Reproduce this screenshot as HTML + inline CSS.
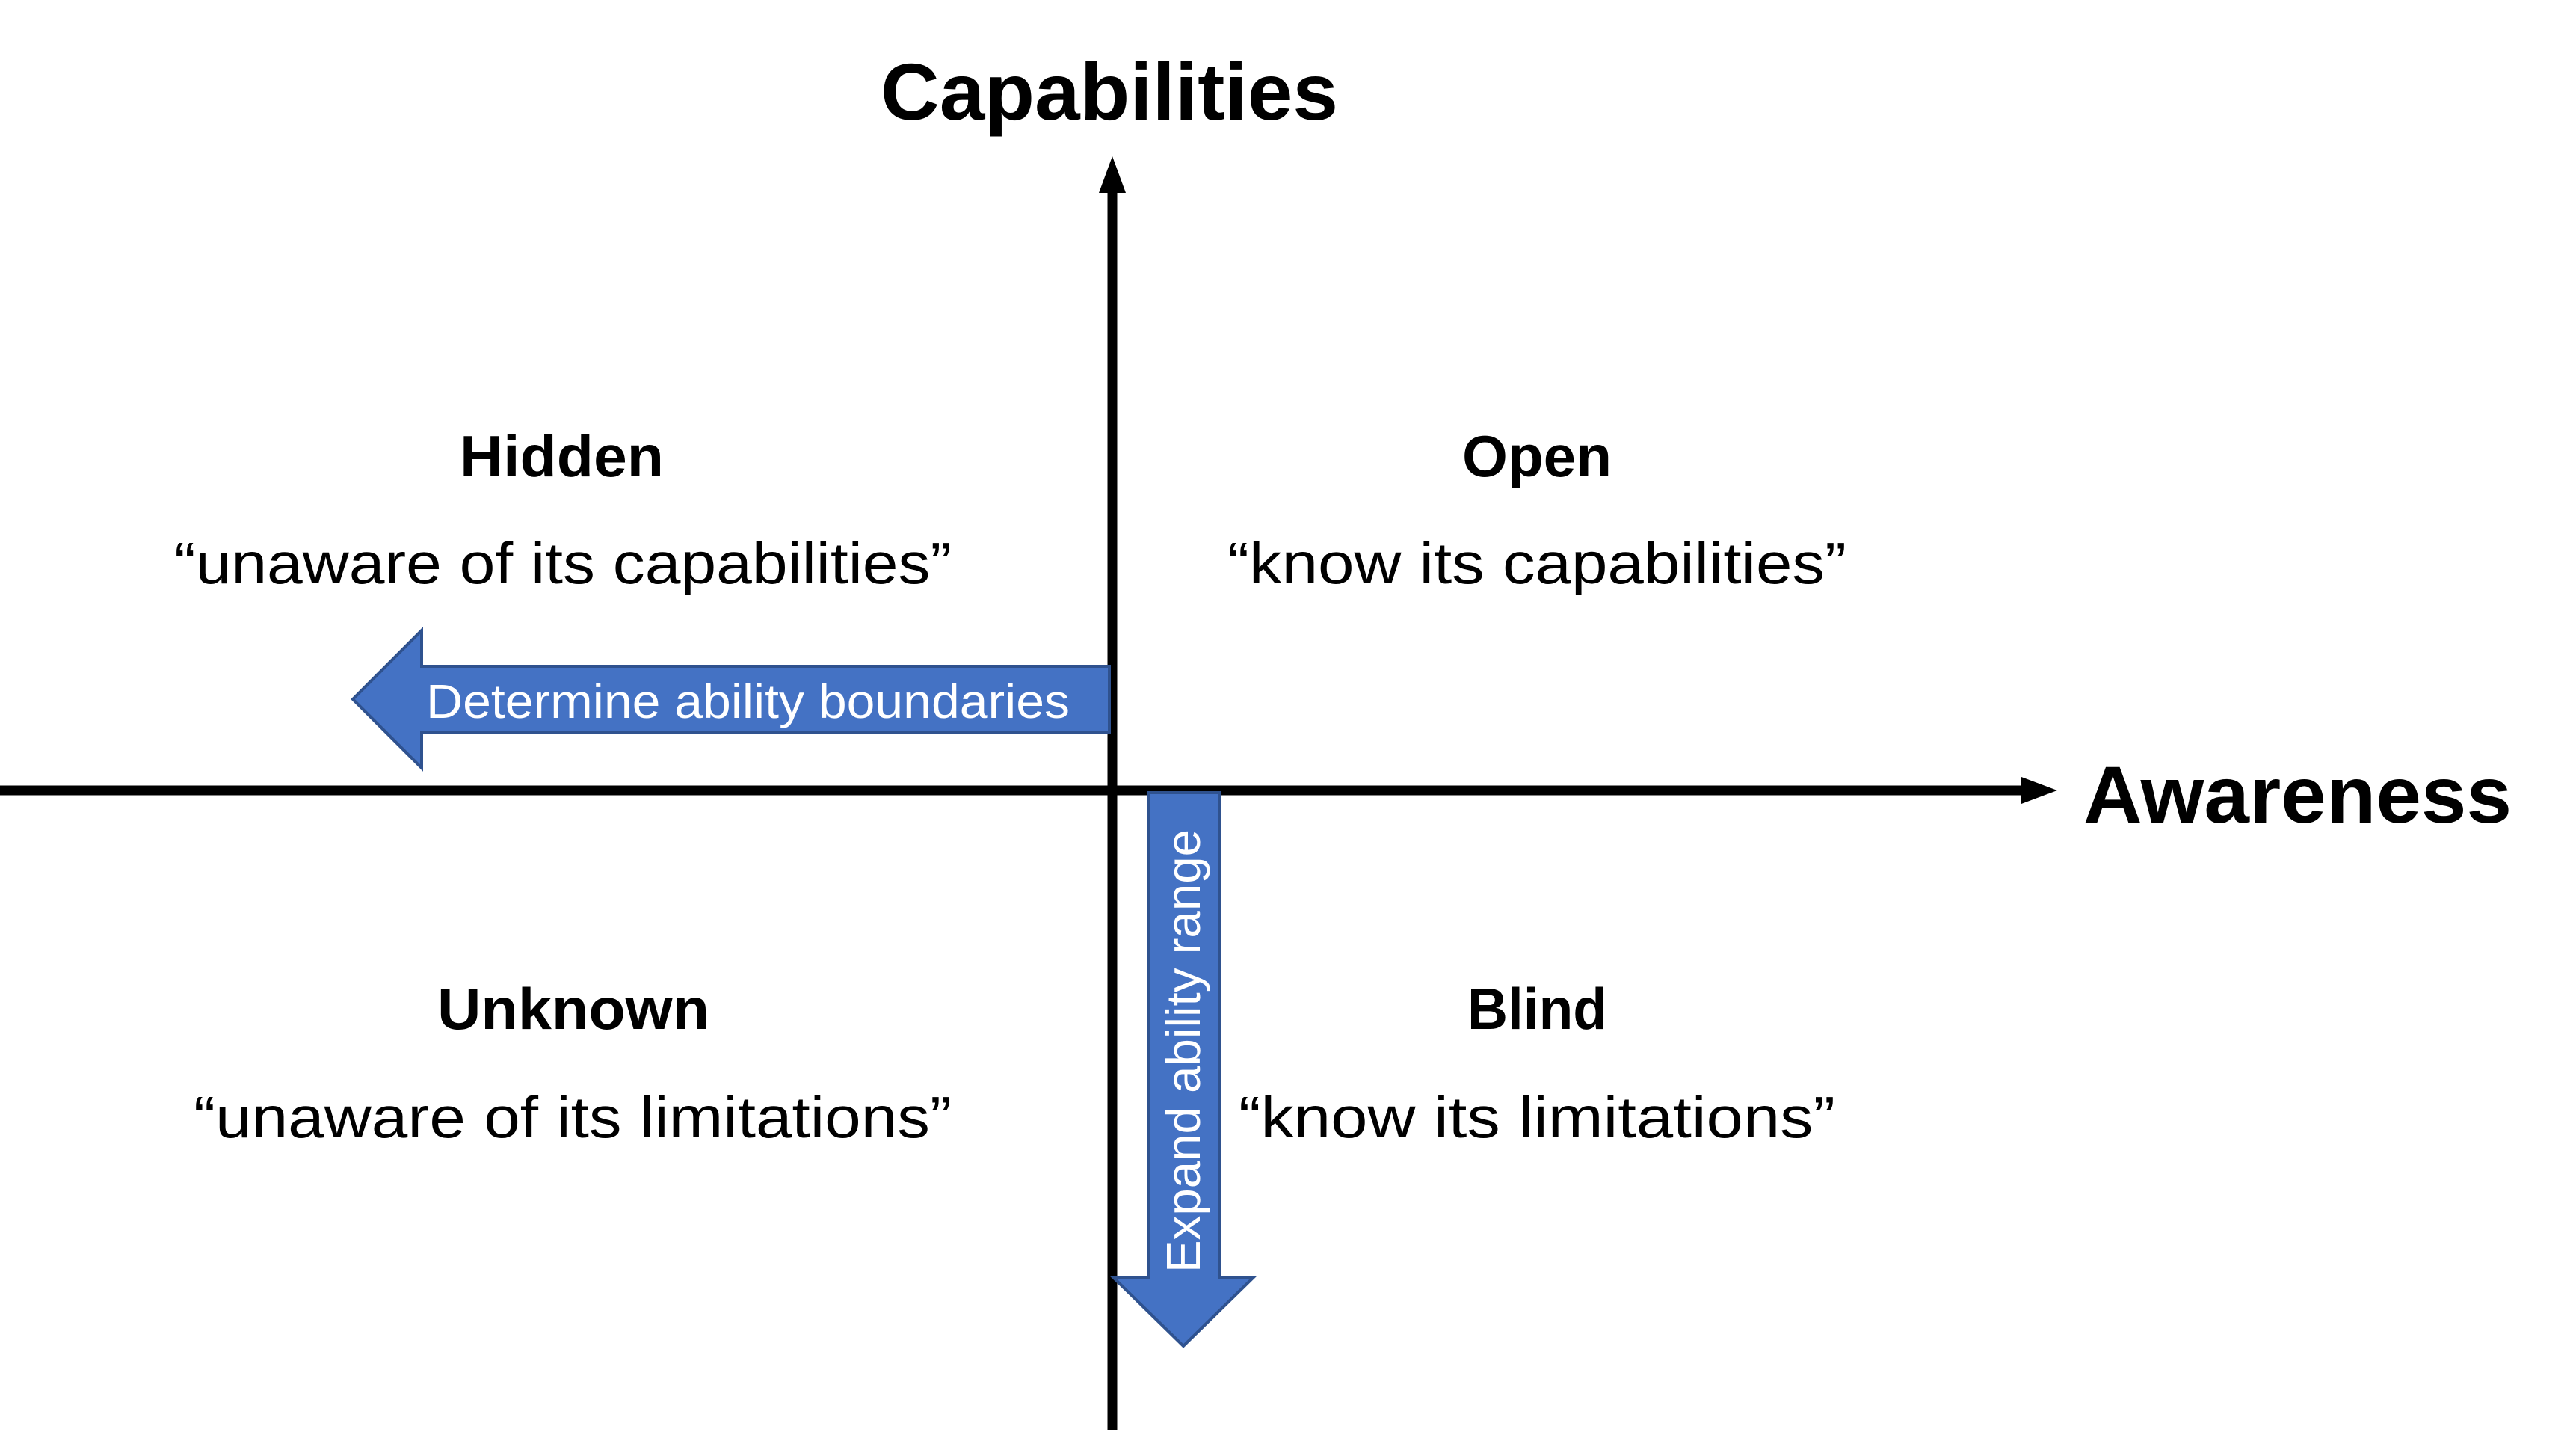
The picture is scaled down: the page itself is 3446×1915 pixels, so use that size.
<!DOCTYPE html>
<html><head><meta charset="utf-8"><style>html,body{margin:0;padding:0;background:#fff;}svg{display:block;}</style></head>
<body>
<svg width="3446" height="1915" viewBox="0 0 3446 1915" xmlns="http://www.w3.org/2000/svg" font-family="Liberation Sans, sans-serif">
<!-- axes -->
<line x1="1488" y1="250" x2="1488" y2="1912" stroke="#000" stroke-width="13"/>
<polygon points="1488,209 1470,258 1506,258" fill="#000"/>
<line x1="0" y1="1057" x2="2710" y2="1057" stroke="#000" stroke-width="13"/>
<polygon points="2752,1057 2704,1039 2704,1075" fill="#000"/>
<!-- left arrow -->
<polygon points="472,935 564,843 564,891 1484,891 1484,979 564,979 564,1027" fill="#4472C4" stroke="#2F528F" stroke-width="4"/>
<text x="570" y="960" font-size="64" fill="#fff" textLength="861" lengthAdjust="spacingAndGlyphs">Determine ability boundaries</text>
<!-- down arrow -->
<polygon points="1536,1060 1631,1060 1631,1709 1676,1709 1583,1800 1490,1709 1536,1709" fill="#4472C4" stroke="#2F528F" stroke-width="4"/>
<text transform="translate(1605,1702) rotate(-90)" x="0" y="0" font-size="64" fill="#fff" textLength="593" lengthAdjust="spacingAndGlyphs">Expand ability range</text>
<!-- titles -->
<text x="1178" y="160" font-size="108" font-weight="bold" textLength="612" lengthAdjust="spacingAndGlyphs">Capabilities</text>
<text x="2787" y="1100" font-size="108" font-weight="bold" textLength="573" lengthAdjust="spacingAndGlyphs">Awareness</text>
<!-- quadrants -->
<text x="615" y="637" font-size="78" font-weight="bold" textLength="273" lengthAdjust="spacingAndGlyphs">Hidden</text>
<text x="233" y="780" font-size="78" textLength="1040" lengthAdjust="spacingAndGlyphs">“unaware of its capabilities”</text>
<text x="1956" y="637" font-size="78" font-weight="bold" textLength="200" lengthAdjust="spacingAndGlyphs">Open</text>
<text x="1642" y="780" font-size="78" textLength="828" lengthAdjust="spacingAndGlyphs">“know its capabilities”</text>
<text x="585" y="1376" font-size="78" font-weight="bold" textLength="364" lengthAdjust="spacingAndGlyphs">Unknown</text>
<text x="259" y="1521" font-size="78" textLength="1014" lengthAdjust="spacingAndGlyphs">“unaware of its limitations”</text>
<text x="1963" y="1376" font-size="78" font-weight="bold" textLength="187" lengthAdjust="spacingAndGlyphs">Blind</text>
<text x="1657" y="1521" font-size="78" textLength="798" lengthAdjust="spacingAndGlyphs">“know its limitations”</text>
</svg>
</body></html>
